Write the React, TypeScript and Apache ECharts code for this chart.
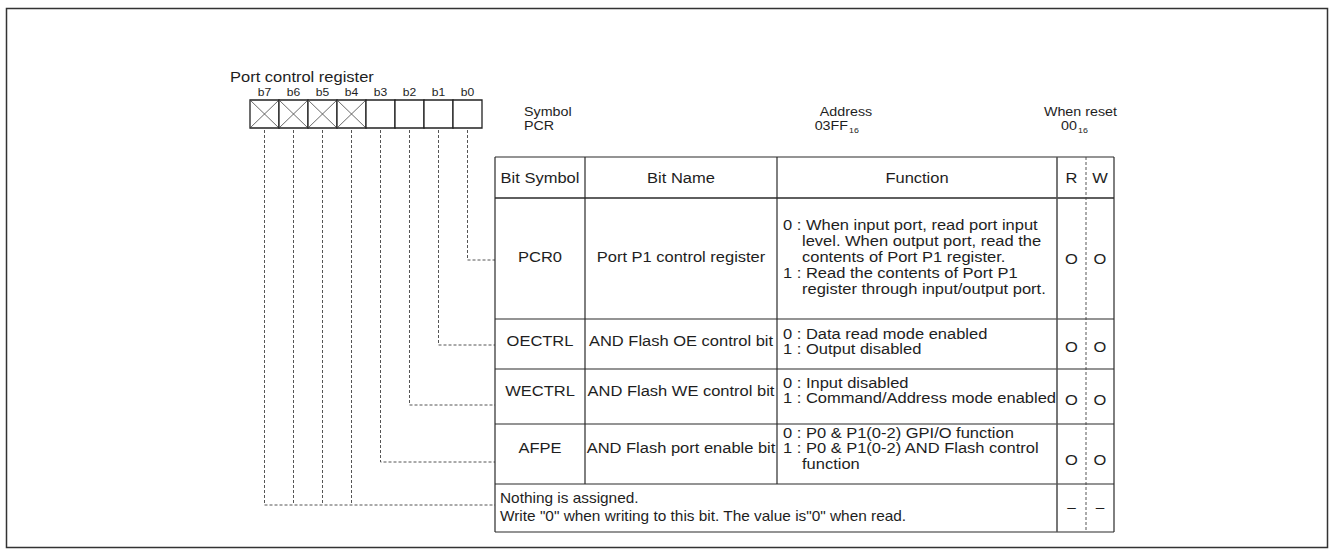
import React, { useEffect, useRef } from "react";
import * as echarts from "echarts";

// ---------- content ----------
const TITLE = "Port control register";
const BIT_LABELS = ["b7", "b6", "b5", "b4", "b3", "b2", "b1", "b0"];
const BIT_UNUSED = [true, true, true, true, false, false, false, false];
// which table row each bit leads to (b7..b0)
const BIT_TARGET_ROW = [4, 4, 4, 4, 3, 2, 1, 0];

const SYMBOL_LABEL = "Symbol";
const SYMBOL_VALUE = "PCR";
const ADDRESS_LABEL = "Address";
const ADDRESS_VALUE = "03FF";
const RESET_LABEL = "When reset";
const RESET_VALUE = "00";
const RADIX = "16";

const HEADERS = ["Bit Symbol", "Bit Name", "Function", "R", "W"];
const BIT_SYMBOLS = ["PCR0", "OECTRL", "WECTRL", "AFPE"];
const BIT_NAMES = [
  "Port P1 control register",
  "AND Flash OE control bit",
  "AND Flash WE control bit",
  "AND Flash port enable bit",
];
const FUNCTIONS: string[][] = [
  [
    "0 : When input port, read port input",
    "level. When output port, read the",
    "contents of Port P1 register.",
    "1 : Read the contents of Port P1",
    "register through input/output port.",
  ],
  ["0 : Data read mode enabled", "1 : Output disabled"],
  ["0 : Input disabled", "1 : Command/Address mode enabled"],
  [
    "0 : P0 & P1(0-2) GPI/O function",
    "1 : P0 & P1(0-2) AND Flash control",
    "function",
  ],
];
const NOTHING_TEXT = [
  "Nothing is assigned.",
  'Write "0" when writing to this bit. The value is"0" when read.',
];
const READ = ["O", "O", "O", "O", "\u2013"];
const WRITE = ["O", "O", "O", "O", "\u2013"];

// ---------- layout ----------
const W = 1335;
const H = 555;
const FONT = '"Liberation Sans", Arial, Helvetica, sans-serif';
const SX = 1.1;
const INK = "#1e1e1e";
const OUTER = { x: 6.5, y: 8.5, w: 1321, h: 539 };
const TITLE_POS = { x: 230, y: 77 };
const REG = { x: 250, y: 100, cw: 29, h: 28, labelY: 92 };
const COLS = [495, 585, 777, 1057, 1086, 1114];
const ROWS = [157, 198, 319, 369, 424, 484, 532];
const CONNECT_Y = [260, 345, 405, 462, 505];
const FUNC_X = 783;
const FUNC_INDENT = 19;
const FUNC_LH = [16, 15, 15, 15.5];
const ROW_DY = [-2, -3, -6, -6];
const RW_DY = [0, 3, 3, 6];
const TABLE_FS = 15;

function txt(
  text: string,
  x: number,
  y: number,
  o: { align?: string; size?: number; sx?: number } = {}
) {
  const align = o.align || "left";
  return {
    type: "text",
    x,
    y,
    scaleX: o.sx ?? SX,
    silent: true,
    style: {
      text,
      x: 0,
      y: 0,
      fill: INK,
      fontSize: o.size ?? 14,
      fontFamily: FONT,
      align,
      textAlign: align,
      verticalAlign: "middle",
      textVerticalAlign: "middle",
    },
  };
}

function line(x1: number, y1: number, x2: number, y2: number, stroke = "#2a2a2a", lw = 1.2, dash?: number[]) {
  return {
    type: "line",
    silent: true,
    shape: { x1, y1, x2, y2 },
    style: { stroke, lineWidth: lw, lineDash: dash },
  };
}

function buildElements() {
  const els: any[] = [];
  // outer frame
  els.push({
    type: "rect",
    silent: true,
    shape: { x: OUTER.x, y: OUTER.y, width: OUTER.w, height: OUTER.h },
    style: { fill: "#fff", stroke: "#333", lineWidth: 1.5 },
  });
  els.push(txt(TITLE, TITLE_POS.x, TITLE_POS.y, { size: 15 }));

  // register boxes
  BIT_LABELS.forEach((b, i) => {
    const x = REG.x + i * REG.cw;
    els.push(txt(b, x + REG.cw / 2, REG.labelY, { align: "center", size: 11 }));
    els.push({
      type: "rect",
      silent: true,
      shape: { x, y: REG.y, width: REG.cw, height: REG.h },
      style: { fill: "#fff", stroke: "#222", lineWidth: 1.3 },
    });
    if (BIT_UNUSED[i]) {
      els.push(line(x, REG.y, x + REG.cw, REG.y + REG.h, "#444", 0.8));
      els.push(line(x + REG.cw, REG.y, x, REG.y + REG.h, "#444", 0.8));
    }
  });

  // dashed connectors
  const dash = [3, 2];
  BIT_LABELS.forEach((_, i) => {
    const cx = REG.x + i * REG.cw + REG.cw / 2;
    const row = BIT_TARGET_ROW[i];
    const cy = CONNECT_Y[row];
    const firstOfGroup = BIT_TARGET_ROW.indexOf(row) === i;
    const pts = firstOfGroup
      ? [[cx, REG.y + REG.h + 2], [cx, cy], [COLS[0], cy]]
      : [[cx, REG.y + REG.h + 2], [cx, cy]];
    els.push({
      type: "polyline",
      silent: true,
      shape: { points: pts },
      style: { stroke: "#555", lineWidth: 1, lineDash: dash, fill: null },
    });
  });

  // symbol / address / reset block
  els.push(txt(SYMBOL_LABEL, 524, 112, { size: 13 }));
  els.push(txt(SYMBOL_VALUE, 524, 126, { size: 13 }));
  els.push(txt(ADDRESS_LABEL, 846, 112, { align: "center", size: 13 }));
  els.push(txt(ADDRESS_VALUE, 848, 126, { align: "right", size: 13 }));
  els.push(txt(RADIX, 849, 130, { size: 8 }));
  els.push(txt(RESET_LABEL, 1117, 112, { align: "right", size: 13 }));
  els.push(txt(RESET_VALUE, 1077, 126, { align: "right", size: 13 }));
  els.push(txt(RADIX, 1078, 130, { size: 8 }));

  // table frame
  const L = COLS[0];
  const R = COLS[COLS.length - 1];
  const T = ROWS[0];
  const B = ROWS[ROWS.length - 1];
  ROWS.forEach((y, k) => {
    const lw = k === 1 ? 1.5 : 1.2;
    els.push(line(L, y, R, y, "#2a2a2a", lw));
  });
  els.push(line(L, T, L, B));
  els.push(line(R, T, R, B));
  const lastRowTop = ROWS[ROWS.length - 2];
  els.push(line(COLS[1], T, COLS[1], lastRowTop));
  els.push(line(COLS[2], T, COLS[2], lastRowTop));
  els.push(line(COLS[3], T, COLS[3], B, "#555", 1.6));
  els.push(line(COLS[4], T, COLS[4], B, "#444", 0.9, [3, 2]));

  // header
  const colCenter = (a: number, b: number) => (COLS[a] + COLS[b]) / 2;
  const hy = (ROWS[0] + ROWS[1]) / 2;
  HEADERS.forEach((h, j) => {
    els.push(txt(h, colCenter(j, j + 1), hy, { align: "center", size: TABLE_FS }));
  });

  // body rows
  BIT_SYMBOLS.forEach((s, r) => {
    const mid = (ROWS[r + 1] + ROWS[r + 2]) / 2;
    const cy = mid + ROW_DY[r];
    els.push(txt(s, colCenter(0, 1), cy, { align: "center", size: TABLE_FS }));
    els.push(txt(BIT_NAMES[r], colCenter(1, 2), cy, { align: "center", size: TABLE_FS }));
    const lines = FUNCTIONS[r];
    const lh = FUNC_LH[r];
    const y0 = cy - ((lines.length - 1) * lh) / 2;
    lines.forEach((t, k) => {
      const indent = /^[01] :/.test(t) ? 0 : FUNC_INDENT;
      els.push(txt(t, FUNC_X + indent, y0 + k * lh, { size: TABLE_FS }));
    });
    els.push(txt(READ[r], colCenter(3, 4), mid + RW_DY[r], { align: "center", size: TABLE_FS }));
    els.push(txt(WRITE[r], colCenter(4, 5), mid + RW_DY[r], { align: "center", size: TABLE_FS }));
  });

  // "nothing is assigned" row
  const ny = (ROWS[5] + ROWS[6]) / 2 - 1;
  NOTHING_TEXT.forEach((t, k) => {
    els.push(txt(t, 500, ny - 9 + k * 18));
  });
  els.push(txt(READ[4], colCenter(3, 4), ny, { align: "center" }));
  els.push(txt(WRITE[4], colCenter(4, 5), ny, { align: "center" }));

  return els;
}

export default function App() {
  const ref = useRef<HTMLDivElement>(null);
  useEffect(() => {
    if (!ref.current) return;
    const chart = echarts.init(ref.current, null, { renderer: "svg" });
    chart.setOption({
      animation: false,
      backgroundColor: "#fff",
      graphic: { elements: buildElements() },
    });
    return () => chart.dispose();
  }, []);
  return (
    <div
      ref={ref}
      style={{ position: "absolute", left: 0, top: 0, width: W, height: H }}
    />
  );
}
